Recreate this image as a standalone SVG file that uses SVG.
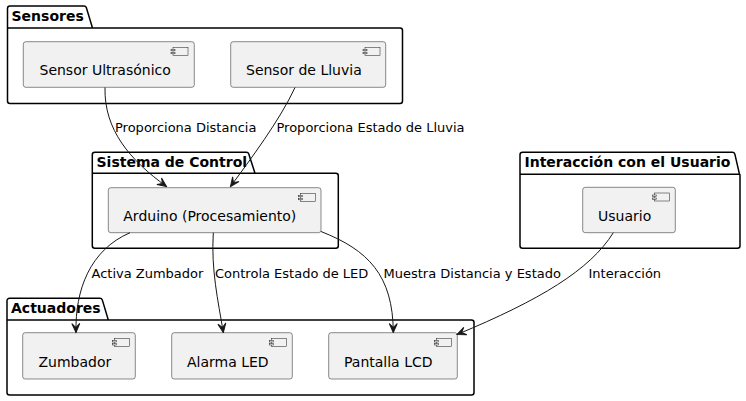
<svg xmlns="http://www.w3.org/2000/svg" width="746" height="401" viewBox="0 0 746 401">
<defs>
<style>
.pkg{fill:none;stroke:#000;stroke-width:1.5;}
.ptitle{font-family:"DejaVu Sans",sans-serif;font-size:14px;font-weight:bold;fill:#000;}
.comp{fill:#F1F1F1;stroke:#181818;stroke-width:0.5;}
.icon{fill:#F1F1F1;stroke:#181818;stroke-width:0.5;}
.clabel{font-family:"DejaVu Sans",sans-serif;font-size:14px;fill:#000;}
.edge{fill:none;stroke:#181818;stroke-width:1;}
.elabel{font-family:"DejaVu Sans",sans-serif;font-size:13px;fill:#000;}
</style>
<marker id="arr" viewBox="-10 -5 11 10" refX="0" refY="0" markerWidth="11" markerHeight="10" markerUnits="userSpaceOnUse" orient="auto">
<path d="M0,0 L-9,-4 L-5,0 L-9,4 Z" fill="#181818" stroke="#181818" stroke-width="1"/>
</marker>
<g id="cicon">
<rect class="icon" x="0" y="0" width="15" height="8"/>
<rect class="icon" x="-2" y="2" width="4" height="1.5"/>
<rect class="icon" x="-2" y="5" width="4" height="1.5"/>
</g>
</defs>
<rect width="746" height="401" fill="#fff"/>

<g id="pkg-sensores">
<path class="pkg" d="M7.5,8.5 A2.5,2.5 0 0 1 10,6 L84,6 A2.5,2.5 0 0 1 86.3,7.6 L92.5,28 L400,28 A2.5,2.5 0 0 1 402.5,30.5 L402.5,101 A2.5,2.5 0 0 1 400,103.5 L10,103.5 A2.5,2.5 0 0 1 7.5,101 Z M7.5,28 L92.5,28"/>
<text class="ptitle" x="11.5" y="21">Sensores</text>
</g>
<g id="pkg-control">
<path class="pkg" d="M92.3,154.8 A2.5,2.5 0 0 1 94.8,152.3 L246.5,152.3 A2.5,2.5 0 0 1 248.8,153.9 L255,173.3 L335.8,173.3 A2.5,2.5 0 0 1 338.3,175.8 L338.3,245.8 A2.5,2.5 0 0 1 335.8,248.3 L94.8,248.3 A2.5,2.5 0 0 1 92.3,245.8 Z M92.3,173.3 L255,173.3"/>
<text class="ptitle" x="96.5" y="167">Sistema de Control</text>
</g>
<g id="pkg-actuadores">
<path class="pkg" d="M7,300.8 A2.5,2.5 0 0 1 9.5,298.3 L100,298.3 A2.5,2.5 0 0 1 102.3,299.9 L108.3,320 L471.5,320 A2.5,2.5 0 0 1 474,322.5 L474,392.5 A2.5,2.5 0 0 1 471.5,395 L9.5,395 A2.5,2.5 0 0 1 7,392.5 Z M7,320 L108.3,320"/>
<text class="ptitle" x="11" y="312.5">Actuadores</text>
</g>
<g id="pkg-interaccion">
<path class="pkg" d="M520,154.8 A2.5,2.5 0 0 1 522.5,152.3 L732.5,152.3 A2.5,2.5 0 0 1 734.8,153.9 L739.3,173.5 A2.5,2.5 0 0 1 740,175.5 L740,245.8 A2.5,2.5 0 0 1 737.5,248.3 L522.5,248.3 A2.5,2.5 0 0 1 520,245.8 Z M520,174.3 L739.3,174.3"/>
<text class="ptitle" x="524.5" y="167">Interacción con el Usuario</text>
</g>

<g id="c-ultrasonico">
<rect class="comp" x="23.3" y="41.7" width="171" height="45.6" rx="2.5"/>
<use href="#cicon" x="173" y="47.3"/>
<text class="clabel" x="39.5" y="75">Sensor Ultrasónico</text>
</g>
<g id="c-lluvia">
<rect class="comp" x="230.7" y="41.7" width="155" height="45.6" rx="2.5"/>
<use href="#cicon" x="365" y="47.3"/>
<text class="clabel" x="246" y="75">Sensor de Lluvia</text>
</g>
<g id="c-arduino">
<rect class="comp" x="108.3" y="187.7" width="212.7" height="45" rx="2.5"/>
<use href="#cicon" x="300.3" y="193.3"/>
<text class="clabel" x="123.3" y="220.5">Arduino (Procesamiento)</text>
</g>
<g id="c-usuario">
<rect class="comp" x="582.7" y="187.3" width="92.6" height="45.4" rx="2.5"/>
<use href="#cicon" x="654.5" y="193"/>
<text class="clabel" x="598" y="220.5">Usuario</text>
</g>
<g id="c-zumbador">
<rect class="comp" x="22.7" y="332.7" width="112.6" height="46.3" rx="2.5"/>
<use href="#cicon" x="114.5" y="338.5"/>
<text class="clabel" x="38.5" y="366.5">Zumbador</text>
</g>
<g id="c-alarma">
<rect class="comp" x="171.7" y="332.7" width="120.6" height="46.3" rx="2.5"/>
<use href="#cicon" x="271.5" y="338.5"/>
<text class="clabel" x="187" y="366.5">Alarma LED</text>
</g>
<g id="c-pantalla">
<rect class="comp" x="328.7" y="332.7" width="128.6" height="46.3" rx="2.5"/>
<use href="#cicon" x="436.5" y="338.5"/>
<text class="clabel" x="344" y="366.5">Pantalla LCD</text>
</g>

<g id="connectors">
<path class="edge" marker-end="url(#arr)" d="M105,87.5 C104,130 130,160 166.5,186.5"/>
<path class="edge" marker-end="url(#arr)" d="M295,87.5 C280,120 250,160 230.5,186.5"/>
<path class="edge" marker-end="url(#arr)" d="M130,232.7 C90,250 75,290 76,332.5"/>
<path class="edge" marker-end="url(#arr)" d="M213.3,232.7 C211,270 218,300 223.3,332.5"/>
<path class="edge" marker-end="url(#arr)" d="M321,231.5 C368,250 393,275 393.3,332.5"/>
<path class="edge" marker-end="url(#arr)" d="M613.3,232.7 C590,270 540,300 457,334.5"/>
<text class="elabel" x="115" y="132">Proporciona Distancia</text>
<text class="elabel" x="276.5" y="132">Proporciona Estado de Lluvia</text>
<text class="elabel" x="91.5" y="278">Activa Zumbador</text>
<text class="elabel" x="215" y="278">Controla Estado de LED</text>
<text class="elabel" x="383.5" y="278">Muestra Distancia y Estado</text>
<text class="elabel" x="588.5" y="278">Interacción</text>
</g>
</svg>
